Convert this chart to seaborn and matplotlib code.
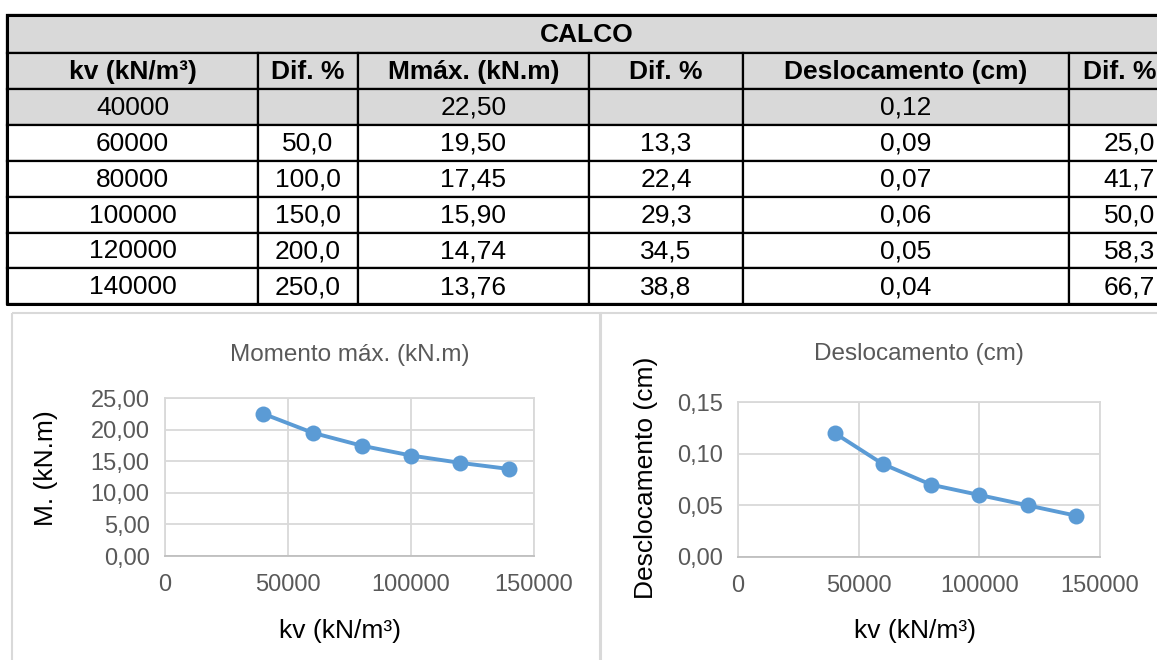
import matplotlib
matplotlib.use("Agg")
import matplotlib.pyplot as plt
import seaborn as sns
import pandas as pd
from matplotlib.patches import Rectangle
from matplotlib.ticker import FuncFormatter

# data from the table
kv = [40000, 60000, 80000, 100000, 120000, 140000]
dif_kv = [None, 50.0, 100.0, 150.0, 200.0, 250.0]
mmax = [22.50, 19.50, 17.45, 15.90, 14.74, 13.76]
dif_m = [None, 13.3, 22.4, 29.3, 34.5, 38.8]
desl = [0.12, 0.09, 0.07, 0.06, 0.05, 0.04]
dif_d = [None, 25.0, 41.7, 50.0, 58.3, 66.7]
headers = ['kv (kN/m³)', 'Dif. %', 'Mmáx. (kN.m)', 'Dif. %', 'Deslocamento (cm)', 'Dif. %']
table_title = 'CALCO'
x_ticks = [0, 50000, 100000, 150000]
m_ticks = [0, 5, 10, 15, 20, 25]
d_ticks = [0, 0.05, 0.10, 0.15]


def br(v, d):
    # decimal comma
    if v is None:
        return ''
    return f'{v:.{d}f}'.replace('.', ',')


sns.set_theme(style='whitegrid')
plt.rcParams['font.family'] = ['Liberation Sans', 'DejaVu Sans']

W, H = 1157, 660
fig = plt.figure(figsize=(W / 100, H / 100), dpi=100)

# overlay axes in pixel units for the table and chart frames
tab = fig.add_axes([0, 0, 1, 1])
tab.set_xlim(0, W)
tab.set_ylim(H, 0)
tab.axis('off')

col_edges = [7, 258, 358, 589, 743, 1069, 1170]
top, title_h, row_h = 15, 38, 35.9
gray = '#d9d9d9'
fs = 19

rows = [[str(kv[i]), br(dif_kv[i], 1), br(mmax[i], 2), br(dif_m[i], 1),
         br(desl[i], 2), br(dif_d[i], 1)] for i in range(len(kv))]

# title row
tab.add_patch(Rectangle((col_edges[0], top), col_edges[-1] - col_edges[0], title_h,
                        facecolor=gray, edgecolor='black', lw=1.6))
tab.text((col_edges[0] + col_edges[-1]) / 2 - 2, top + title_h / 2 + 1, table_title,
         ha='center', va='center', fontsize=fs, fontweight='bold', color='black')

y0 = top + title_h
all_rows = [headers] + rows
for r, vals in enumerate(all_rows):
    yy = y0 + r * row_h
    fc = gray if r <= 1 else 'white'
    for c, txt in enumerate(vals):
        x0, x1 = col_edges[c], col_edges[c + 1]
        tab.add_patch(Rectangle((x0, yy), x1 - x0, row_h, facecolor=fc,
                                edgecolor='black', lw=1.6))
        if c == len(vals) - 1 and r > 0:
            # last column numbers sit at the right
            tab.text(1155, yy + row_h / 2 + 1, txt, ha='right', va='center',
                     fontsize=fs, color='black')
        else:
            tab.text((x0 + x1) / 2, yy + row_h / 2 + 1, txt, ha='center', va='center',
                     fontsize=fs, color='black', fontweight='bold' if r == 0 else 'normal')

# thick outer border
t_bot = y0 + len(all_rows) * row_h
tab.plot([col_edges[0], col_edges[-1]], [top, top], color='black', lw=2.2)
tab.plot([col_edges[0], col_edges[-1]], [t_bot, t_bot], color='black', lw=2.2)
tab.plot([col_edges[0], col_edges[0]], [top, t_bot], color='black', lw=2.2)

# chart frames
tab.add_patch(Rectangle((12, 313), 589, 360, facecolor='none', edgecolor=gray, lw=1.5))
tab.add_patch(Rectangle((600, 313), 570, 360, facecolor='none', edgecolor=gray, lw=1.5))

df = pd.DataFrame({'kv': kv, 'mmax': mmax, 'desl': desl})
blue = '#5b9bd5'
tcol = '#595959'


def style(ax, yt, ylim, title, title_pad, ylabel, lab_x, lab_y, xlab_x):
    ax.set_xlim(0, 150000)
    ax.set_xticks(x_ticks)
    ax.set_ylim(*ylim)
    ax.set_yticks(yt)
    ax.yaxis.set_major_formatter(FuncFormatter(lambda v, p: br(v, 2)))
    ax.xaxis.set_major_formatter(FuncFormatter(lambda v, p: f'{int(v)}'))
    ax.grid(True, color=gray, lw=1.3)
    for s in ax.spines.values():
        s.set_color(gray)
        s.set_linewidth(1.3)
    ax.spines['bottom'].set_color('#bfbfbf')
    ax.tick_params(length=0, labelsize=17, labelcolor=tcol)
    ax.tick_params(axis='x', pad=13)
    ax.tick_params(axis='y', pad=11)
    ax.set_title(title, fontsize=17.5, color=tcol, pad=title_pad)
    ax.set_xlabel('kv (kN/m³)', fontsize=19, color='black')
    ax.set_ylabel(ylabel, fontsize=19, color='black')
    ax.yaxis.set_label_coords(lab_x, lab_y)
    ax.xaxis.set_label_coords(xlab_x, -0.40)


ax1 = fig.add_axes([165 / W, 1 - 556 / H, 369 / W, 158 / H])
sns.lineplot(data=df, x='kv', y='mmax', ax=ax1, color=blue, lw=2.8,
             marker='o', markersize=11.5, markeredgewidth=0)
style(ax1, m_ticks, (0, 25), 'Momento máx. (kN.m)', 27, 'M. (kN.m)', -0.29, 0.557, 0.474)

ax2 = fig.add_axes([738 / W, 1 - 557 / H, 362 / W, 155 / H])
sns.lineplot(data=df, x='kv', y='desl', ax=ax2, color=blue, lw=2.8,
             marker='o', markersize=11.5, markeredgewidth=0)
style(ax2, d_ticks, (0, 0.15), 'Deslocamento (cm)', 30, 'Desclocamento (cm)', -0.221, 0.51, 0.489)

fig.savefig('out.png', dpi=100)
